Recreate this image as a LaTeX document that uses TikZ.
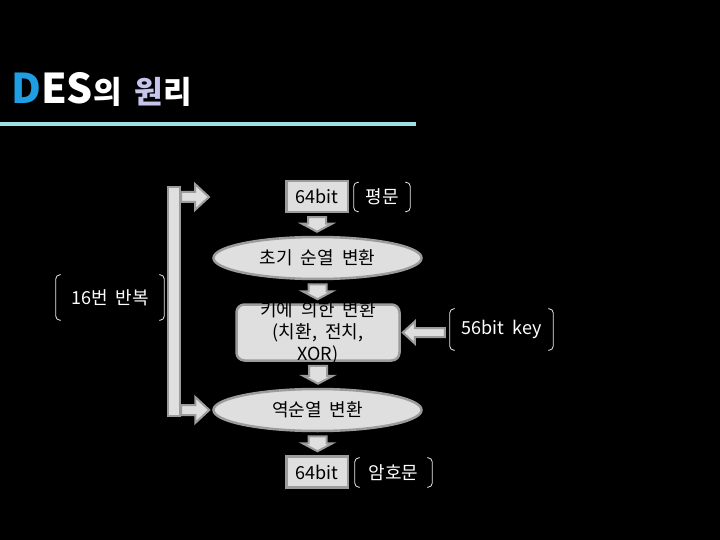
\documentclass[tikz,border=0pt]{standalone}
\usepackage{fontspec}
\setmainfont[WordSpace=2]{Noto Sans CJK KR}
\usetikzlibrary{shapes.geometric,calc}
\definecolor{desblue}{HTML}{1E9FE3}
\definecolor{lav}{HTML}{C4C4EC}
\definecolor{cyanline}{HTML}{99E3E8}
\definecolor{boxfill}{HTML}{DFDFDF}
\definecolor{boxline}{HTML}{9C9C9C}
\definecolor{brkc}{HTML}{E8E8E8}
\newcommand\brk[1]{\draw[brk] ([xshift=5pt]#1.north west) -- (#1.north west) -- (#1.south west) -- ([xshift=5pt]#1.south west) ([xshift=-5pt]#1.north east) -- (#1.north east) -- (#1.south east) -- ([xshift=-5pt]#1.south east);}
\newcommand\bdn[2]{\draw[blk] let \p1=(#1), \p2=(#2) in
 (\x1-9pt,\y1-4pt) -- (\x1+9pt,\y1-4pt) -- (\x1+9pt,\y2+12pt) -- (\x1+15pt,\y2+12pt) -- (\x1,\y2+4pt) -- (\x1-15pt,\y2+12pt) -- (\x1-9pt,\y2+12pt) -- cycle;}
\newcommand\blft[2]{\draw[blk] let \p1=(#1), \p2=(#2) in
 (\x1-5pt,\y2+4.5pt) -- (\x2+14pt,\y2+4.5pt) -- (\x2+14pt,\y2+11pt) -- (\x2+2pt,\y2) -- (\x2+14pt,\y2-11pt) -- (\x2+14pt,\y2-4.5pt) -- (\x1-5pt,\y2-4.5pt) -- cycle;}
\newcommand\brt[2]{\draw[blk] let \p1=(#1), \p2=(#2) in
 (\x1,\y1+5pt) -- (\x2-14pt,\y1+5pt) -- (\x2-14pt,\y1+13pt) -- (\x2,\y1) -- (\x2-14pt,\y1-13pt) -- (\x2-14pt,\y1-5pt) -- (\x1,\y1-5pt) -- cycle;}
\begin{document}
\begin{tikzpicture}[x=1pt,y=-1pt,font=\fontsize{18}{22}\selectfont,
  pbox/.style={draw=boxline,fill=boxfill,line width=2.5pt,inner sep=0,minimum width=61.5,minimum height=31,text=black},
  ell/.style={ellipse,draw=boxline,fill=boxfill,line width=2.5pt,inner sep=0,minimum width=208,minimum height=42,text=black},
  rbox/.style={draw=boxline,fill=boxfill,line width=2.5pt,rounded corners=8pt,inner sep=0,minimum width=163,minimum height=56},
  brk/.style={draw=brkc,line width=0.8pt,rounded corners=4pt},
  bp/.style={inner sep=0,text=white},
  blk/.style={draw=boxline,fill=boxfill,line width=2pt,line join=miter}]
\fill[black] (0,0) rectangle (720,540);
\useasboundingbox (0,0) rectangle (720,540);
% title
\node[anchor=base west,inner sep=0,text=white,font=\fontsize{41}{50}\selectfont\bfseries] (title) at (11,104)
 {\textcolor{desblue}{D}ES\fontsize{31}{33}\selectfont\hspace{0pt}의\hspace{13pt}\textcolor{lav}{원}리};
\fill[cyanline] (0,122) rectangle (416,126);
% nodes
\node[pbox] (in) at (317,196.5) {64bit};
\node[bp,minimum width=56,minimum height=29] (plain) at (382,197) {평문};
\node[ell] (ip) at (317.5,258) {초기 순열 변환};
\node[rbox] (key) at (318,332.5) {};
\node[inner sep=0,align=center,text=black] (keytxt) at (318,333) {키에 의한 변환\\(치환, 전치,\\XOR)};
\node[ell] (fp) at (317.5,410) {역순열 변환};
\node[pbox] (out) at (317,472) {64bit};
\node[bp,minimum width=77,minimum height=29] (cipher) at (393.5,472.5) {암호문};
\node[bp,minimum width=108,minimum height=45] (rep) at (110,297.5) {16번 반복};
\node[bp,minimum width=103,minimum height=41] (kl) at (501.5,329.5) {56bit key};
\brk{plain}\brk{cipher}\brk{rep}\brk{kl}
% flow arrows
\bdn{in.south}{ip.north}
\bdn{ip.south}{key.north}
\bdn{key.south}{fp.north}
\bdn{fp.south}{out.north}
\blft{kl.west}{key.east}
% loop
\node[draw=boxline,fill=boxfill,line width=2pt,inner sep=0,minimum width=12,minimum height=228] (loop) at (174,301.5) {};
\coordinate (looptip) at (209,197);
\brt{loop.east |- looptip}{looptip}
\brt{loop.east |- fp.west}{[xshift=-3pt]fp.west}
\end{tikzpicture}
\end{document}
